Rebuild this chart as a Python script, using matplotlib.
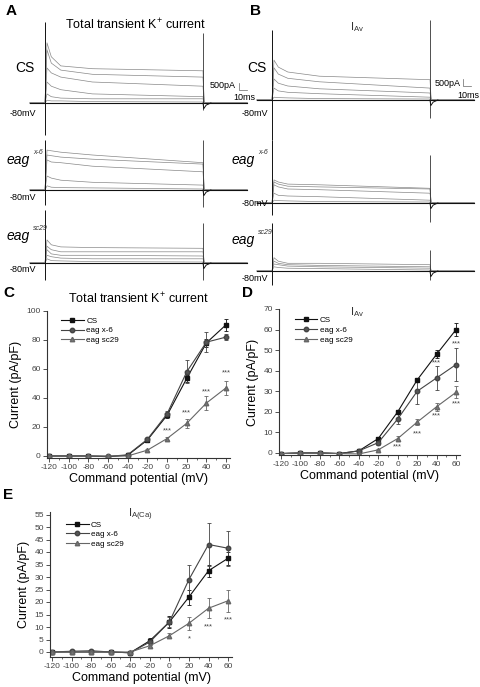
import matplotlib
matplotlib.use('Agg')
import matplotlib.pyplot as plt
from matplotlib.ticker import MultipleLocator
from matplotlib.lines import Line2D

plt.rcParams['font.family'] = ['Liberation Sans', 'DejaVu Sans']
plt.rcParams['mathtext.fontset'] = 'custom'
plt.rcParams['mathtext.rm'] = 'Liberation Sans'
plt.rcParams['mathtext.it'] = 'Liberation Sans:italic'
plt.rcParams['axes.unicode_minus'] = False

# ---------------- data: current traces (pA) ----------------
# sample times (ms) of each sweep; step from 0 to 200 ms
trace_t = [-19, 0, 2.5, 8, 20, 60, 200, 201.5, 256]
# per sweep: peak, 8 ms, 20 ms, 60 ms, 200 ms
a_cs = [[4300, 3300, 2650, 2450, 2300], [3800, 2850, 2350, 2050, 1850],
        [2500, 2150, 1850, 1500, 1200], [1500, 1200, 950, 650, 450],
        [650, 450, 350, 300, 300], [200, 150, 150, 100, 70]]
a_x6 = [[2850, 2800, 2700, 2500, 1950], [2500, 2450, 2350, 2200, 1850],
        [2150, 2000, 1950, 1700, 1300], [1000, 850, 700, 550, 350],
        [300, 200, 170, 150, 70]]
a_sc = [[1650, 1300, 1150, 1100, 1050], [1200, 950, 800, 800, 800],
        [950, 650, 550, 550, 500], [550, 450, 350, 300, 300],
        [300, 170, 150, 100, 70]]
b_cs = [[2850, 2350, 2000, 1700, 1450], [2300, 1850, 1550, 1300, 850],
        [1500, 1200, 1000, 800, 500], [850, 650, 550, 450, 200],
        [200, 170, 150, 100, 70]]
b_x6 = [[1650, 1500, 1350, 1300, 1050], [1500, 1350, 1200, 1150, 1000],
        [1300, 1150, 1000, 950, 700], [700, 550, 500, 450, 200],
        [200, 170, 150, 100, 70]]
b_sc = [[950, 700, 550, 550, 450], [700, 550, 450, 400, 300],
        [500, 450, 350, 300, 200], [300, 250, 200, 170, 70]]
# capacitive transients (top, bottom) at step on / off
a_cs_spk = [(5800, -2300), (5000, -500)]
a_x6_spk = [(3550, -1050), (3550, -1200)]
a_sc_spk = [(3800, -1200), (2850, -1200)]
b_cs_spk = [(5000, -2850), (5700, -1300)]
b_x6_spk = [(4500, -850), (3400, -1350)]
b_sc_spk = [(3400, -1000), (1500, -650)]

# ---------------- data: I-V curves (pA/pF) ----------------
volt = [-120, -100, -80, -60, -40, -20, 0, 20, 40, 60]

c_cs = [0, 0, 0, -0.5, 0.5, 11, 28, 53.5, 78, 90.5]
c_cs_err = [0, 0, 0, 0, 0, 0.8, 1.5, 2.5, 3, 4]
c_x6 = [0, 0, 0, -0.3, 0.8, 11.5, 29, 58, 78.5, 82]
c_x6_err = [0, 0, 0, 0, 0, 1, 2, 8, 7, 2]
c_sc = [0, 0, 0, 0, 0, 4, 12, 22.5, 36.5, 47]
c_sc_err = [0, 0, 0, 0, 0, 0.5, 1, 3, 5, 5]
c_star_x = [0, 20, 40, 60]
c_star_y = [17, 30, 44, 57]
c_star_s = ['***', '***', '***', '***']

d_cs = [-0.3, 0, 0, -0.3, 1, 7, 20, 35.5, 48, 60]
d_cs_err = [0, 0, 0, 0, 0.3, 0.5, 1, 1, 2, 3]
d_x6 = [-0.3, 0, 0, -0.3, 1, 5, 16.5, 30, 36.5, 43]
d_x6_err = [0, 0, 0, 0, 0.3, 1, 2.5, 6, 6, 8]
d_sc = [-0.3, 0, 0, -0.3, -0.5, 1.5, 7, 15, 22.5, 29.5]
d_sc_err = [0, 0, 0, 0, 0.2, 0.3, 1, 1.5, 2, 3]
d_star_x = [0, 20, 40, 60, 40, 60]
d_star_y = [3, 9.2, 18, 24, 44, 53]
d_star_s = ['***'] * 6

e_cs = [0, 0, 0, 0, -0.3, 4.5, 12, 22, 32.5, 37.5]
e_cs_err = [0, 0, 0, 0, 0, 1, 2.5, 3, 2.5, 2.5]
e_x6 = [0, 0.3, 0.5, 0, -0.3, 4, 12, 29, 43, 41.5]
e_x6_err = [0, 0.2, 0.3, 0.2, 0, 1, 2, 6, 8.5, 7]
e_sc = [0, 0, 0, 0, 0, 2.5, 6.5, 11.5, 17.5, 20.5]
e_sc_err = [0, 0, 0, 0, 0, 0.5, 1, 2.5, 4, 4.5]
e_star_x = [20, 40, 60]
e_star_y = [5.2, 10, 13]
e_star_s = ['*', '***', '***']

labels = ['CS', 'eag x-6', 'eag sc29']

# ---------------- figure ----------------
W, H = 480, 687
fig = plt.figure(figsize=(W / 100, H / 100), dpi=100)


def px_axes(x0, y0, x1, y1):
    return fig.add_axes([x0 / W, 1 - y1 / H, (x1 - x0) / W, (y1 - y0) / H])


def px_text(x, y, s, **kw):
    fig.text(x / W, 1 - y / H, s, **kw)


MS = 200 / 158      # ms per pixel
PA = 500 / 7        # pA per pixel


def draw_traces(onset, base, sweeps, spikes, bar=None):
    ax = px_axes(onset - 25, base - 85, onset + 215, base + 45)
    ax.set_xlim(-25 * MS, 215 * MS)
    ax.set_ylim(-45 * PA, 85 * PA)
    ax.axis('off')
    for sw in sweeps:
        ax.plot(trace_t, [0, 0] + sw + [0, 0], color='#888888', lw=0.5)
    ax.plot([trace_t[0], trace_t[-1]], [0, 0], color='#111111', lw=0.8)
    (on_top, on_bot), (off_top, off_bot) = spikes
    ax.vlines([0], on_bot, on_top, color='#111111', lw=0.7)
    ax.vlines([200], off_bot, off_top, color='#333333', lw=0.6)
    ax.plot([200, 201, 204, 210], [0, -400, -150, 0], color='#111111', lw=0.7)
    if bar is not None:
        bx, by = bar
        ax.plot([bx, bx, bx + 10], [by + 500, by, by], color='#666666', lw=0.5)
    return ax


draw_traces(45, 103, a_cs, a_cs_spk, bar=((239 - 45) * MS, 930))
draw_traces(45, 190, a_x6, a_x6_spk)
draw_traces(45, 263, a_sc, a_sc_spk)
draw_traces(272, 100, b_cs, b_cs_spk, bar=((463 - 272) * MS, 1000))
draw_traces(272, 203, b_x6, b_x6_spk)
draw_traces(272, 271, b_sc, b_sc_spk)

# trace labels
px_text(6, 4, 'A', fontsize=11, fontweight='bold', va='top')
px_text(250, 4, 'B', fontsize=11, fontweight='bold', va='top')
px_text(135, 25, 'Total transient K$^{+}$ current', fontsize=9, ha='center', va='center')
px_text(357, 27, 'I$_{\\mathregular{Av}}$', fontsize=8, ha='center', va='center', color='#333333')
for x in (25, 257):
    px_text(x, 68, 'CS', fontsize=10, ha='center', va='center')
for x, ys in ((23, (114, 198, 270)), (255, (113, 203, 279))):
    for y in ys:
        px_text(x, y, '-80mV', fontsize=6.5, ha='center', va='center')
for x0, y, sup in ((30, 160, 'x-6'), (30, 236, 'sc29'), (255, 160, 'x-6'), (255, 240, 'sc29')):
    px_text(x0, y, 'eag', fontsize=10, fontstyle='italic', ha='right', va='center')
    px_text(x0 + 3, y - 7, sup, fontsize=5, fontstyle='italic', ha='left', va='center',
            color='#333333')
px_text(236, 86, '500pA', fontsize=6.5, ha='right', va='center')
px_text(244, 97, '10ms', fontsize=6.5, ha='center', va='center')
px_text(461, 84, '500pA', fontsize=6.5, ha='right', va='center')
px_text(468, 95, '10ms', fontsize=6.5, ha='center', va='center')

# ---------------- I-V panels ----------------
styles = [dict(marker='s', color='#111111', mfc='#111111'),
          dict(marker='o', color='#444444', mfc='#555555'),
          dict(marker='^', color='#666666', mfc='#777777')]


def iv_panel(rect, ylim, ystep, series, stars, title, letter, letter_xy, leg_anchor):
    ax = px_axes(*rect)
    handles = []
    for (vals, errs), st, lab in zip(series, styles, labels):
        ax.errorbar(volt, vals, yerr=errs, lw=0.8, ms=3.2, capsize=1.5,
                    elinewidth=0.6, capthick=0.6, **st)
        handles.append(Line2D([], [], lw=0.8, ms=3.2, label=lab, **st))
    for x, y, s in zip(*stars):
        ax.text(x, y, s, fontsize=5.5, ha='center', va='center', color='#444444')
    ax.set_xlim(-122, 64)
    ax.set_ylim(*ylim)
    ax.xaxis.set_major_locator(MultipleLocator(20))
    ax.xaxis.set_minor_locator(MultipleLocator(10))
    ax.yaxis.set_major_locator(MultipleLocator(ystep))
    for s in ('top', 'right'):
        ax.spines[s].set_visible(False)
    for s in ('left', 'bottom'):
        ax.spines[s].set_color('#333333')
        ax.spines[s].set_linewidth(0.8)
    ax.tick_params(which='major', length=3, width=0.6, color='#333333',
                   labelsize=6, labelcolor='#444444', pad=1.5)
    ax.tick_params(which='minor', length=1.5, width=0.5, color='#333333')
    ax.set_xlabel('Command potential (mV)', fontsize=9, labelpad=1)
    ax.set_ylabel('Current (pA/pF)', fontsize=9, labelpad=3)
    ax.text(title[1], title[2], title[0], transform=ax.transAxes, fontsize=title[3],
            ha='center', va='center', color=title[4])
    ax.legend(handles=handles, loc='upper left', bbox_to_anchor=leg_anchor, frameon=False,
              fontsize=5.8, handlelength=2.8, labelspacing=0.25, borderaxespad=0,
              handletextpad=0.3)
    px_text(letter_xy[0], letter_xy[1], letter, fontsize=11, fontweight='bold', va='top')
    return ax


iv_panel((47, 311, 230, 458), (-1.4, 100), 20,
         [(c_cs, c_cs_err), (c_x6, c_x6_err), (c_sc, c_sc_err)],
         (c_star_x, c_star_y, c_star_s),
         ('Total transient K$^{+}$ current', 0.5, 1.08, 9, 'black'),
         'C', (3, 286), (0.06, 0.98))
iv_panel((279, 309, 460, 455), (-1, 70), 10,
         [(d_cs, d_cs_err), (d_x6, d_x6_err), (d_sc, d_sc_err)],
         (d_star_x, d_star_y, d_star_s),
         ('I$_{\\mathregular{Av}}$', 0.43, 0.98, 8, '#333333'),
         'D', (242, 286), (0.07, 0.97))
iv_panel((50, 512, 232, 657), (-2, 56), 5,
         [(e_cs, e_cs_err), (e_x6, e_x6_err), (e_sc, e_sc_err)],
         (e_star_x, e_star_y, e_star_s),
         ('I$_{\\mathregular{A(Ca)}}$', 0.5, 0.98, 8, '#333333'),
         'E', (3, 488), (0.07, 0.96))

fig.savefig('out.png', dpi=100)
